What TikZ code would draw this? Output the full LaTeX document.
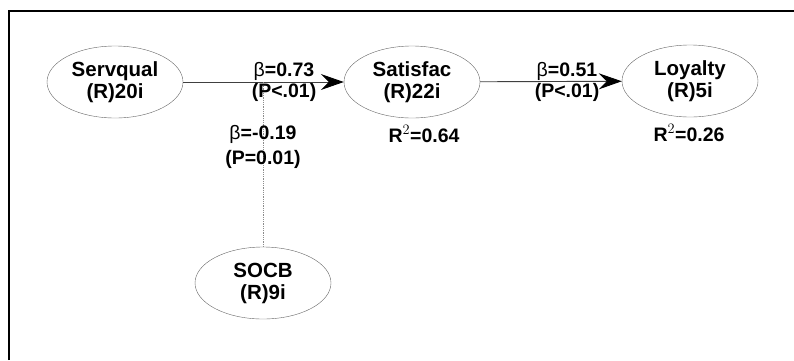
\documentclass[tikz,border=0pt]{standalone}
\usepackage{fontspec}
\setmainfont{Liberation Sans}
\usetikzlibrary{shapes.geometric,arrows.meta}
\tikzset{
  latent/.style={ellipse,draw=black!60,thin,minimum width=136pt,minimum height=72pt,
    inner sep=0pt,align=center,font=\fontsize{20.5}{22}\selectfont\bfseries},
  coef/.style={align=center,font=\fontsize{19.5}{21}\selectfont\bfseries},
  path/.style={black!75,line width=0.9pt,-{Stealth[black,length=23pt,width=16pt,inset=8pt]}},
}
\begin{document}
\begin{tikzpicture}[x=1pt,y=-1pt]
	\useasboundingbox (0,0) rectangle (794,360);
	\draw[line width=1.2pt] (9,360) -- (9,11) -- (794,11);
	\node[latent] (servqual) at (115,82) {Servqual\\(R)20i};
	\node[latent] (satisfac) at (412,82) {Satisfac\\(R)22i};
	\node[latent] (loyalty) at (690,81) {Loyalty\\(R)5i};
	\node[latent] (socb) at (263,283) {SOCB\\(R)9i};
	\draw[path] (servqual) -- (satisfac);
	\draw[path] (satisfac) -- (loyalty);
	\coordinate (hit) at (socb.north |- servqual.east);
	\draw[black!45,densely dotted,line width=0.8pt] (socb) -- (hit);
	\node[coef] (b1) at (284,71) {{\mdseries β}=0.73};
	\node[coef] (p1) at (284,92) {(P<.01)};
	\node[coef] (b3) at (263,134) {{\mdseries β}=-0.19};
	\node[coef] (p3) at (263,159) {(P=0.01)};
	\node[coef] (b2) at (567,71) {{\mdseries β}=0.51};
	\node[coef] (p2) at (567,92) {(P<.01)};
	\node[coef] (r1) at (424,134) {R$^2$=0.64};
	\node[coef] (r2) at (689,133) {R$^2$=0.26};
\end{tikzpicture}
\end{document}
